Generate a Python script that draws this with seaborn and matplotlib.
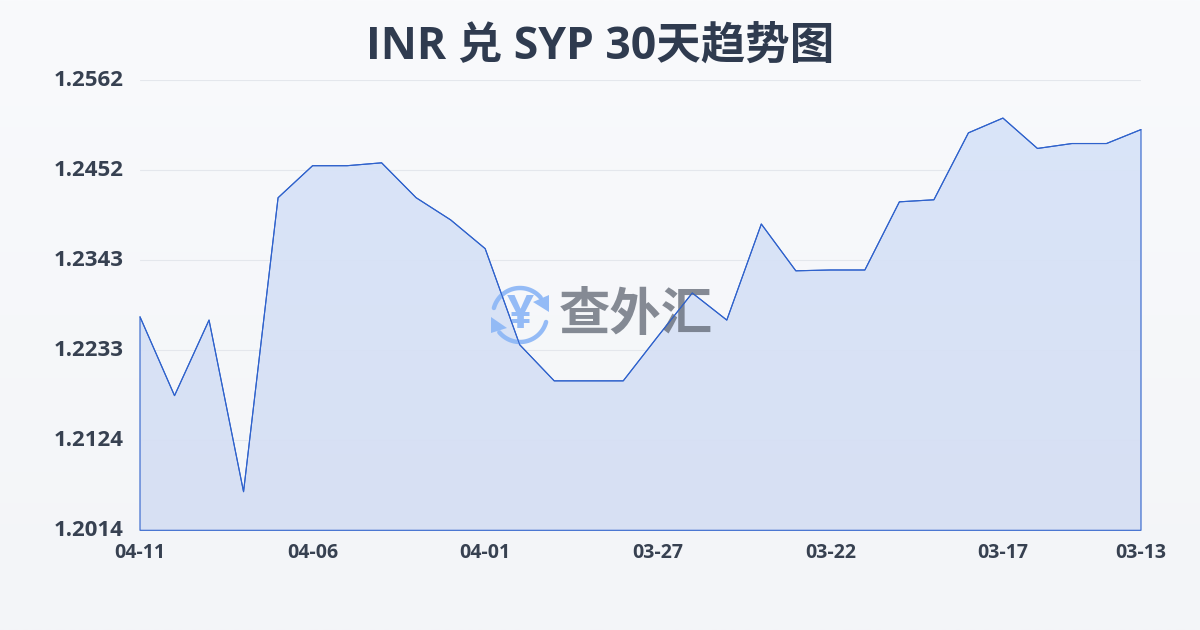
import numpy as np
import pandas as pd
import matplotlib
matplotlib.use("Agg")
import matplotlib.pyplot as plt
import matplotlib.transforms as mtrans
import seaborn as sns

# dates run backwards, newest first, like the original chart
dates = ["04-11","04-10","04-09","04-08","04-07","04-06","04-05","04-04","04-03","04-02",
         "04-01","03-31","03-30","03-29","03-28","03-27","03-26","03-25","03-24","03-23",
         "03-22","03-21","03-20","03-19","03-18","03-17","03-16","03-15","03-14","03-13"]
rates = [1.2274,1.2178,1.2270,1.2061,1.2419,1.2458,1.2458,1.24615,1.2419,1.2392,
         1.2357,1.2240,1.2196,1.2196,1.2196,1.2250,1.2303,1.2270,1.2387,1.2330,
         1.2331,1.2331,1.2414,1.24165,1.2498,1.2516,1.2479,1.2485,1.2485,1.2502]
y_ticks = [1.2014,1.21236,1.22332,1.23428,1.24524,1.2562]
x_tick_labels = ["04-11","04-06","04-01","03-27","03-22","03-17","03-13"]
title = "INR 兑 SYP 30天趋势图"

sns.set_theme(style="white")
# Noto Sans here has no bold file, Open Sans Bold is nearly the same letters
plt.rcParams['font.family'] = ['Open Sans', 'Noto Sans CJK SC', 'DejaVu Sans']

df = pd.DataFrame({"date": dates, "rate": rates, "pos": range(len(dates))})

fig = plt.figure(figsize=(12, 6.3), dpi=100)
W, H = 1200, 630

# page background gradient
bg = fig.add_axes([0, 0, 1, 1], zorder=0)
bg.imshow(np.linspace(0, 1, 256).reshape(-1, 1), aspect="auto", extent=[0, 1, 0, 1],
          cmap=matplotlib.colors.LinearSegmentedColormap.from_list("bg", ["#f9fafc", "#f3f5f8"]))
bg.axis("off")

# only used for its pixel coordinates, the watermark is drawn in ax below the line
ov = fig.add_axes([0, 0, 1, 1], zorder=0.5)
ov.set_xlim(0, W)
ov.set_ylim(H, 0)
ov.axis("off")

# plot area in pixels: x 140-1141, y 80.3-530.3
ax = fig.add_axes([140/W, 1-530.3/H, 1001/W, 450/H], zorder=1)
ax.patch.set_alpha(0)
ax.set_xlim(0, len(dates)-1)
ax.set_ylim(y_ticks[0], y_ticks[-1])

ax.grid(axis="y", color="#e4e7ec", lw=0.8)
ax.set_axisbelow(True)

# area with a very slight vertical gradient
area = ax.fill_between(df["pos"], df["rate"], y_ticks[0], facecolor="none", edgecolor="#2f62cc", lw=0.8, zorder=3, clip_on=False)
grad = ax.imshow(np.linspace(0, 1, 256).reshape(-1, 1), aspect="auto",
                 extent=[0, len(dates)-1, y_ticks[0], y_ticks[-1]], zorder=2, alpha=0.92,
                 cmap=matplotlib.colors.LinearSegmentedColormap.from_list("fill", ["#d8e4f9", "#d5dff3"]))
grad.set_clip_path(area.get_paths()[0], transform=ax.transData)
ax.set_xlim(0, len(dates)-1)
ax.set_ylim(y_ticks[0], y_ticks[-1])

sns.lineplot(data=df, x="pos", y="rate", ax=ax, color="#2f62cc", lw=0.8, zorder=4, clip_on=False)

ax.set_xlabel("")
ax.set_ylabel("")
ax.set_yticks(y_ticks)
ax.set_yticklabels([f"{v:.4f}" for v in y_ticks], fontsize=16, fontweight="bold", color="#374151")
x_pos = [dates.index(d) for d in x_tick_labels]
ax.set_xticks(x_pos)
ax.set_xticklabels(x_tick_labels, fontsize=14, fontweight="bold", color="#374151")
ax.tick_params(axis="x", length=6, width=0.8, color="#e6e8ec", pad=3.5)
ax.tick_params(axis="y", length=0, pad=12)
# y labels sit a little above their grid lines in the original
lift = mtrans.ScaledTranslation(0, 2/100, fig.dpi_scale_trans)
for lab in ax.get_yticklabels():
    lab.set_transform(lab.get_transform() + lift)
sns.despine(ax=ax, left=True, bottom=True, top=True, right=True)

fig.text(0.5, 1-47/H, title, ha="center", va="center", fontsize=32, fontweight="bold", color="#2f3b4f")

# watermark
logo = "#8fb8f6"
cx, cy, r = 520, 315, 27
t1 = np.radians(np.linspace(195, 320, 40))
t2 = np.radians(np.linspace(15, 140, 40))
wm = ov.transData
ax.plot(cx+r*np.cos(t1), cy+r*np.sin(t1), color=logo, lw=3.2, solid_capstyle="round", alpha=0.95, transform=wm, zorder=3.5, clip_on=False)
ax.plot(cx+r*np.cos(t2), cy+r*np.sin(t2), color=logo, lw=3.2, solid_capstyle="round", alpha=0.95, transform=wm, zorder=3.5, clip_on=False)
ax.fill([549, 549, 533], [295, 312, 302], color=logo, alpha=0.95, lw=0, transform=wm, zorder=3.5, clip_on=False)
ax.fill([491, 491, 507], [317, 333, 328], color=logo, alpha=0.95, lw=0, transform=wm, zorder=3.5, clip_on=False)
ax.text(cx, cy, "¥", ha="center", va="center", fontsize=34, fontweight="bold", color=logo, alpha=0.95, transform=wm, zorder=3.5)
ax.text(636, 317, "查外汇", ha="center", va="center", fontsize=37, fontweight="bold", color="#5f6672", alpha=0.75, transform=wm, zorder=3.5)

fig.savefig("out.png", dpi=100)
